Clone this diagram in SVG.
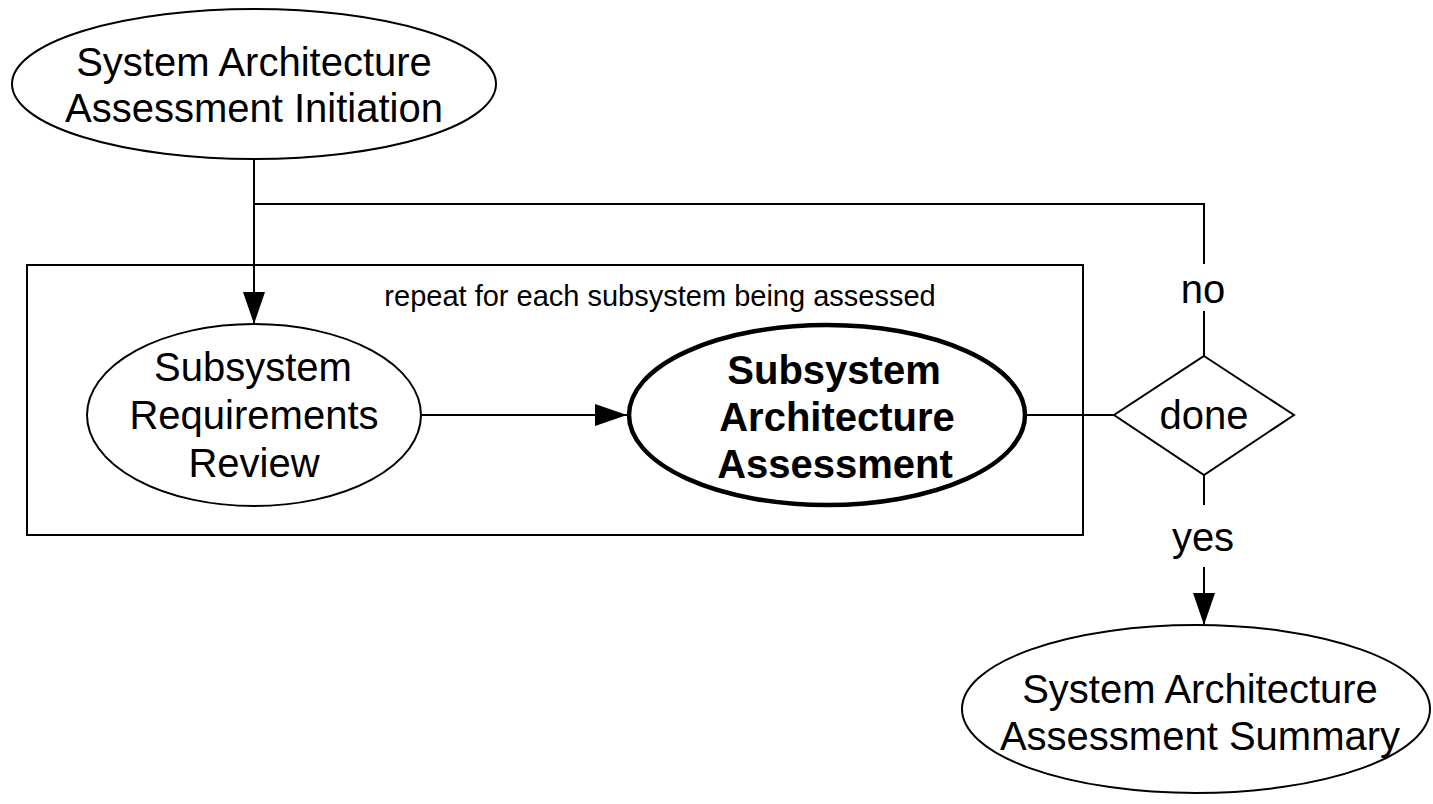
<svg xmlns="http://www.w3.org/2000/svg" width="1433" height="804" viewBox="0 0 1433 804">
<style>
  .shape { fill: #ffffff; stroke: #000000; stroke-width: 2; }
  .bold-shape { fill: #ffffff; stroke: #000000; stroke-width: 4.5; }
  .frame { fill: none; stroke: #000000; stroke-width: 2; }
  .conn { fill: none; stroke: #000000; stroke-width: 2; }
  .lbl { font-family: "Liberation Sans", Arial, sans-serif; font-size: 40px; fill: #000000; text-anchor: middle; }
  .blbl { font-family: "Liberation Sans", Arial, sans-serif; font-size: 40px; font-weight: bold; fill: #000000; text-anchor: middle; }
  .note { font-family: "Liberation Sans", Arial, sans-serif; font-size: 29px; fill: #000000; text-anchor: middle; }
</style>
<defs>
  <marker id="arrow" markerWidth="32" markerHeight="22" refX="32" refY="11" orient="auto" markerUnits="userSpaceOnUse">
    <path d="M0,0 L32,11 L0,22 Z" fill="#000000"/>
  </marker>
</defs>
<rect width="1433" height="804" fill="#ffffff"/>

<g id="loop-frame">
  <rect class="frame" x="27" y="265" width="1056" height="270"/>
  <text class="note" x="660" y="306">repeat for each subsystem being assessed</text>
</g>

<g id="connectors">
  <path class="conn" d="M254,159 V324" marker-end="url(#arrow)"/>
  <path class="conn" d="M1204,356 V311 M1204,264 V204 H254"/>
  <path class="conn" d="M421,415 H627" marker-end="url(#arrow)"/>
  <path class="conn" d="M1025,415 H1114"/>
  <path class="conn" d="M1204,475 V505"/>
  <path class="conn" d="M1204,567 V625" marker-end="url(#arrow)"/>
  <text class="lbl" x="1203" y="303">no</text>
  <text class="lbl" x="1203" y="551">yes</text>
</g>

<g id="initiation">
  <ellipse class="shape" cx="254" cy="84" rx="242" ry="75"/>
  <text class="lbl" x="254" y="76">System Architecture</text>
  <text class="lbl" x="254" y="122">Assessment Initiation</text>
</g>

<g id="requirements-review">
  <ellipse class="shape" cx="254" cy="415" rx="167" ry="91"/>
  <text class="lbl" x="253" y="381">Subsystem</text>
  <text class="lbl" x="254" y="429">Requirements</text>
  <text class="lbl" x="254" y="477">Review</text>
</g>

<g id="architecture-assessment">
  <ellipse class="bold-shape" cx="827" cy="415" rx="198" ry="90"/>
  <text class="blbl" x="834" y="384">Subsystem</text>
  <text class="blbl" x="837" y="431">Architecture</text>
  <text class="blbl" x="835" y="478">Assessment</text>
</g>

<g id="done">
  <polygon class="shape" points="1204,356 1294,415 1204,475 1114,415"/>
  <text class="lbl" x="1204" y="429">done</text>
</g>

<g id="summary">
  <ellipse class="shape" cx="1196" cy="709" rx="234" ry="84"/>
  <text class="lbl" x="1200" y="703">System Architecture</text>
  <text class="lbl" x="1200" y="750">Assessment Summary</text>
</g>
</svg>
